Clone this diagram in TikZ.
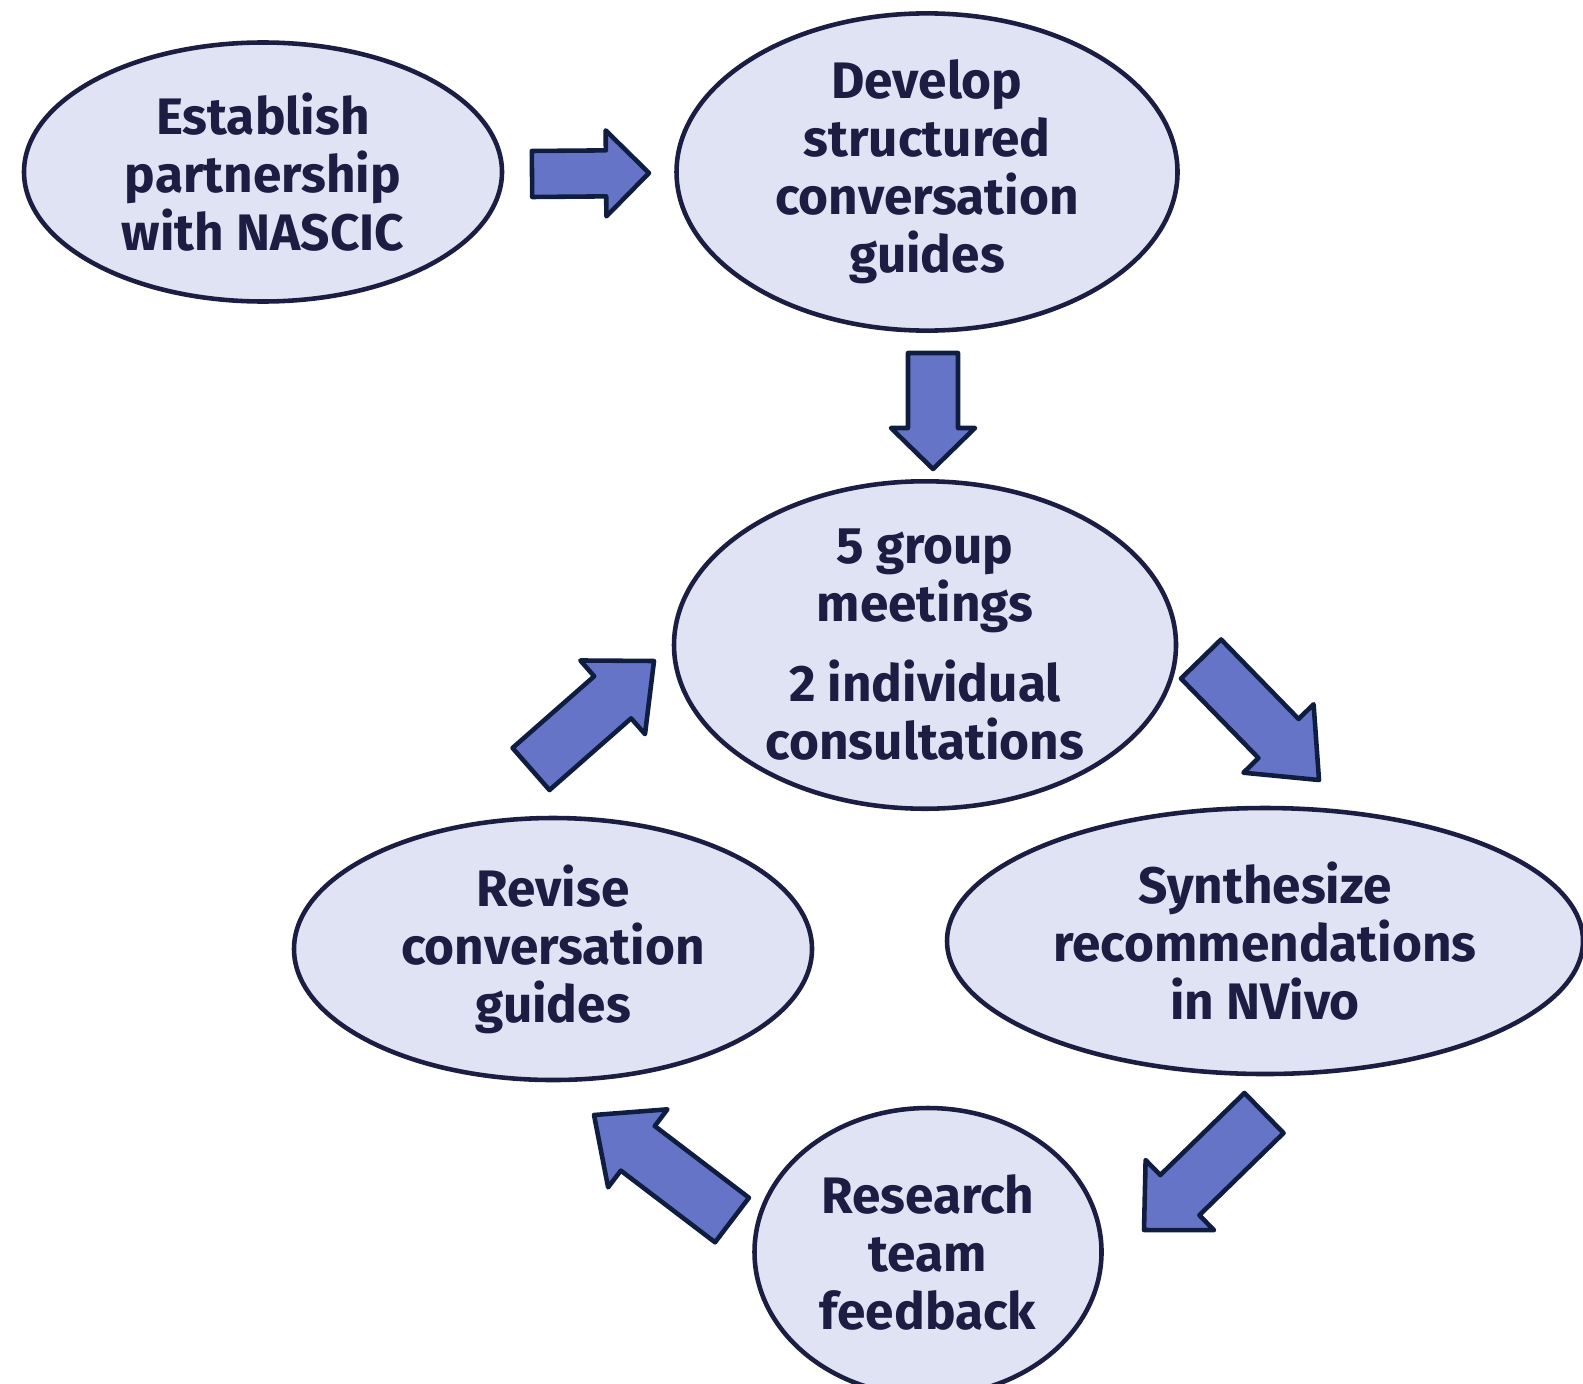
\documentclass[tikz,border=0pt]{standalone}
\usepackage{fontspec}
\setmainfont{Fira Sans}
\usepackage{xcolor}
\usepackage{tikz}
\usetikzlibrary{positioning,shapes,calc}

\definecolor{ovalfill}{HTML}{E0E3F3}
\definecolor{ovalline}{HTML}{1B1E42}
\definecolor{arrowfill}{HTML}{6674C8}
\definecolor{arrowline}{HTML}{0F1E40}

\tikzset{
  stage/.style={ellipse,draw=ovalline,fill=ovalfill,line width=1.3pt,inner sep=0pt,
    align=center,text=ovalline,font=\fontsize{14.6}{16.5}\selectfont\bfseries},
  bigarrow/.style={draw=arrowline,fill=arrowfill,line width=1.3pt,line join=round}
}

% start, tip, half shaft, half head, head length
\newcommand{\blockarrow}[5]{%
  \coordinate (hb) at ($(#2)!#5!(#1)$);
  \draw[bigarrow] ($(#1)!#3!90:(#2)$) -- ($(hb)!#3!90:(#2)$) -- ($(hb)!#4!90:(#2)$) -- (#2)
    -- ($(hb)!#4!-90:(#2)$) -- ($(hb)!#3!-90:(#2)$) -- ($(#1)!#3!-90:(#2)$) -- cycle;
}

\begin{document}
\begin{tikzpicture}
\useasboundingbox (0,0) rectangle (15.83,-13.83);

\node[stage,minimum width=4.78cm,minimum height=2.59cm] (est) at (2.63,-1.72) {Establish\\partnership\\with NASCIC};
\node[stage,minimum width=5.01cm,minimum height=2.88cm] (dev) at (9.27,-1.72) {Develop\\structured\\conversation\\guides};
\node[stage,minimum width=5.02cm,minimum height=3.26cm] (meet) at (9.25,-6.45) {5 group\\meetings\\[0.22cm]2 individual\\consultations};
\node[stage,minimum width=6.36cm,minimum height=2.66cm] (syn) at (12.65,-9.41) {Synthesize\\recommendations\\in NVivo};
\node[stage,minimum width=5.18cm,minimum height=2.62cm] (rev) at (5.53,-9.49) {Revise\\conversation\\guides};
\node[stage,minimum width=3.47cm,minimum height=2.88cm] (res) at (9.28,-12.52) {Research\\team\\feedback};

\coordinate (a1s) at (5.32,-1.74);  \coordinate (a1t) at (6.49,-1.73);
\coordinate (a2s) at (9.33,-3.53);  \coordinate (a2t) at (9.33,-4.69);
\coordinate (a3s) at (12.01,-6.59); \coordinate (a3t) at (13.19,-7.80);
\coordinate (a4s) at (12.64,-11.13); \coordinate (a4t) at (11.44,-12.30);
\coordinate (a5s) at (7.32,-12.20); \coordinate (a5t) at (5.94,-11.15);
\coordinate (a6s) at (5.31,-7.69);  \coordinate (a6t) at (6.54,-6.61);

\blockarrow{a1s}{a1t}{0.23cm}{0.43cm}{0.43cm}
\blockarrow{a2s}{a2t}{0.25cm}{0.42cm}{0.41cm}
\blockarrow{a3s}{a3t}{0.28cm}{0.49cm}{0.58cm}
\blockarrow{a4s}{a4t}{0.28cm}{0.49cm}{0.50cm}
\blockarrow{a5s}{a5t}{0.28cm}{0.49cm}{0.55cm}
\blockarrow{a6s}{a6t}{0.28cm}{0.49cm}{0.55cm}

\end{tikzpicture}
\end{document}
